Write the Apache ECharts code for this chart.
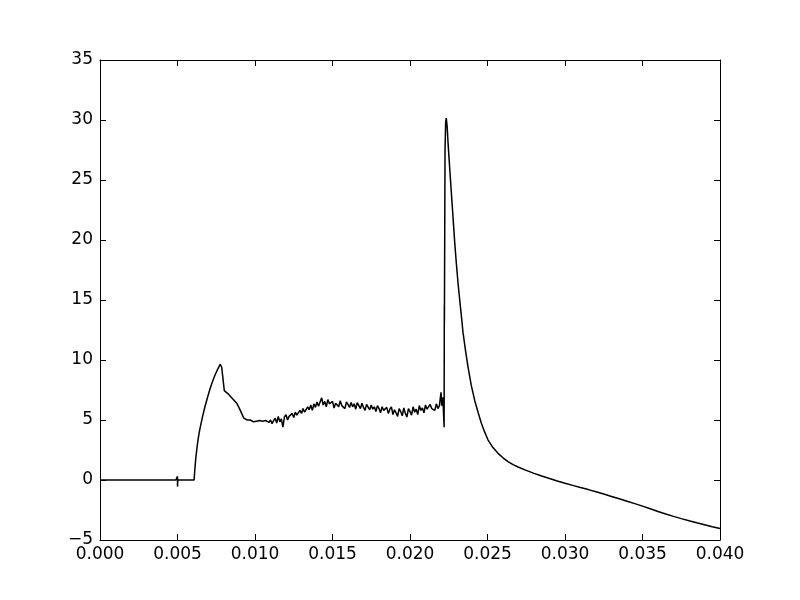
<!DOCTYPE html>
<html>
<head>
<meta charset="utf-8">
<script src="https://cdn.jsdelivr.net/npm/echarts@6/dist/echarts.min.js"></script>
<style>
  html, body { margin: 0; padding: 0; background: #fff; }
  #main { width: 800px; height: 600px; }
</style>
</head>
<body>
<div id="main"></div>
<script>
// time (s) and value pairs, by segment
var restT = [0, 0.0049, 0.005, 0.005, 0.00502, 0.00607];
var restV = [0, 0, 0.3, -0.55, 0, 0];

var riseT = [0.00612, 0.00618, 0.00624, 0.00632, 0.0064, 0.0065, 0.00662, 0.00677, 0.00693, 0.0071,
             0.00726, 0.00742, 0.00758, 0.00768, 0.00776, 0.00785, 0.00802, 0.0081, 0.00825, 0.00839,
             0.0086, 0.00882, 0.009, 0.00914, 0.00928, 0.0094];
var riseV = [0.9, 1.8, 2.5, 3.3, 3.95, 4.6, 5.3, 6.1, 6.85, 7.6,
             8.2, 8.75, 9.2, 9.45, 9.65, 9.4, 7.45, 7.35, 7.2, 7.0,
             6.7, 6.4, 5.95, 5.55, 5.15, 5.0];

var plateauT = [
  0.0095, 0.0096, 0.0097, 0.0098, 0.0099, 0.0100, 0.0101, 0.0102, 0.0103, 0.0104,
  0.0105, 0.0106, 0.0107, 0.0108, 0.0109, 0.0110, 0.0111, 0.0112, 0.0113, 0.0114,
  0.0115, 0.0116, 0.0117, 0.0118, 0.0119, 0.0120, 0.0121, 0.0122, 0.0123, 0.0124,
  0.0125, 0.0126, 0.0127, 0.0128, 0.0129, 0.0130, 0.0131, 0.0132, 0.0133, 0.0134,
  0.0135, 0.0136, 0.0137, 0.0138, 0.0139, 0.0140, 0.0141, 0.0142, 0.0143, 0.0144,
  0.0145, 0.0146, 0.0147, 0.0148, 0.0149, 0.0150, 0.0151, 0.0152, 0.0153, 0.0154,
  0.0155, 0.0156, 0.0157, 0.0158, 0.0159, 0.0160, 0.0161, 0.0162, 0.0163, 0.0164,
  0.0165, 0.0166, 0.0167, 0.0168, 0.0169, 0.0170, 0.0171, 0.0172, 0.0173, 0.0174,
  0.0175, 0.0176, 0.0177, 0.0178, 0.0179, 0.0180, 0.0181, 0.0182, 0.0183, 0.0184,
  0.0185, 0.0186, 0.0187, 0.0188, 0.0189, 0.0190, 0.0191, 0.0192, 0.0193, 0.0194,
  0.0195, 0.0196, 0.0197, 0.0198, 0.0199, 0.0200, 0.0201, 0.0202, 0.0203, 0.0204,
  0.0205, 0.0206, 0.0207, 0.0208, 0.0209, 0.0210, 0.0211, 0.0212, 0.0213, 0.0214,
  0.0215, 0.0216, 0.0217, 0.0218, 0.0219, 0.0220, 0.02205, 0.0221, 0.02215
];
var plateauV = [
  5.0, 4.9, 5.0, 4.95, 4.85, 4.95, 4.9, 4.8, 4.95, 4.85,
  4.9, 4.75, 4.95, 4.85, 4.8, 5.0, 4.7, 4.95, 5.15, 4.75,
  5.3, 4.85, 5.1, 4.4, 5.25, 5.45, 5.0, 5.3, 5.15, 5.55,
  5.2, 5.65, 5.4, 5.3, 5.8, 5.55, 5.95, 5.65, 5.75, 6.1,
  5.85, 6.25, 5.8, 6.35, 6.05, 6.5, 6.15, 6.0, 6.85, 6.25,
  6.55, 6.1, 6.7, 6.35, 6.2, 6.55, 6.0, 6.4, 6.5, 6.1,
  6.6, 6.2, 6.35, 5.95, 6.5, 6.3, 6.05, 6.45, 6.1, 6.35,
  5.9, 6.45, 6.2, 5.95, 6.4, 6.05, 5.8, 6.3, 6.15, 5.85,
  6.25, 5.9, 6.1, 5.7, 6.2, 5.95, 5.6, 6.1, 5.8, 5.65,
  6.05, 5.55, 5.9, 6.1, 5.45, 5.85, 5.6, 5.3, 5.95, 5.7,
  5.35, 6.0, 5.55, 5.25, 5.95, 5.7, 5.4, 6.1, 5.65, 5.9,
  5.45, 6.2, 5.8, 6.0, 5.6, 6.25, 5.9, 5.75, 6.3, 5.95,
  6.1, 5.8, 6.35, 5.95, 6.2, 7.3, 6.2, 6.9, 6.0
];

var spikeT = [0.0222, 0.022215, 0.02222, 0.02226, 0.0223, 0.02234];
var spikeV = [4.4, 14.6, 13.2, 27.5, 29.8, 30.15];

var decayT = [0.0224, 0.02245, 0.02256, 0.02267, 0.02278, 0.02289, 0.023, 0.0231, 0.0232, 0.02332,
              0.02342, 0.02358, 0.02374, 0.02395, 0.02417, 0.0244, 0.0246, 0.0248, 0.02503, 0.02535,
              0.02568, 0.026, 0.02632, 0.02665, 0.02697, 0.0275, 0.028, 0.0285, 0.029, 0.0295,
              0.03, 0.0305, 0.031, 0.0315, 0.032, 0.0325, 0.033, 0.0335, 0.034, 0.0345,
              0.035, 0.0355, 0.036, 0.0365, 0.037, 0.0375, 0.038, 0.0385, 0.039, 0.0395, 0.04];
var decayV = [29.4, 28.2, 26.0, 23.9, 21.8, 19.7, 17.9, 16.4, 15.1, 13.6,
              12.3, 10.8, 9.45, 7.9, 6.65, 5.6, 4.75, 4.05, 3.35, 2.7,
              2.22, 1.85, 1.53, 1.28, 1.08, 0.8, 0.55, 0.33, 0.12, -0.08,
              -0.27, -0.45, -0.63, -0.8, -0.98, -1.17, -1.37, -1.57, -1.77, -1.97,
              -2.18, -2.4, -2.62, -2.83, -3.03, -3.22, -3.4, -3.57, -3.73, -3.9, -4.05];

function pairs(t, v) {
  return t.map(function (x, i) { return [x, v[i]]; });
}
var trace = [].concat(
  pairs(restT, restV), pairs(riseT, riseV), pairs(plateauT, plateauV),
  pairs(spikeT, spikeV), pairs(decayT, decayV)
);

var chart = echarts.init(document.getElementById('main'), null, { renderer: 'canvas' });

var labelFont = { color: '#000', fontFamily: 'DejaVu Sans', fontSize: 17 };
var lineBlack = { show: true, onZero: false, lineStyle: { color: '#000', width: 1 } };
var tickIn = { show: true, inside: true, length: 6, lineStyle: { color: '#000', width: 1 } };

function xAxisFor(pos, labels) {
  return {
    type: 'value', position: pos, min: 0, max: 0.04, interval: 0.005,
    axisLine: lineBlack, axisTick: tickIn, splitLine: { show: false },
    axisLabel: Object.assign({
      show: labels, margin: 6,
      formatter: function (v) { return v.toFixed(3); }
    }, labelFont)
  };
}
function yAxisFor(pos, labels) {
  return {
    type: 'value', position: pos, min: -5, max: 35, interval: 5,
    axisLine: lineBlack, axisTick: tickIn, splitLine: { show: false },
    axisLabel: Object.assign({
      show: labels, margin: 7,
      formatter: function (v) { return v < 0 ? '\u2212' + Math.abs(v) : String(v); }
    }, labelFont)
  };
}

var option = {
  animation: false,
  backgroundColor: '#fff',
  grid: { left: 100, right: 80, top: 60, bottom: 60, containLabel: false },
  xAxis: [xAxisFor('bottom', true), xAxisFor('top', false)],
  yAxis: [yAxisFor('left', true), yAxisFor('right', false)],
  series: [{
    type: 'line',
    data: trace,
    showSymbol: false,
    symbol: 'none',
    sampling: null,
    smooth: false,
    lineStyle: { color: '#000', width: 1.5 },
    z: 1
  }]
};

chart.setOption(option);
</script>
</body>
</html>
